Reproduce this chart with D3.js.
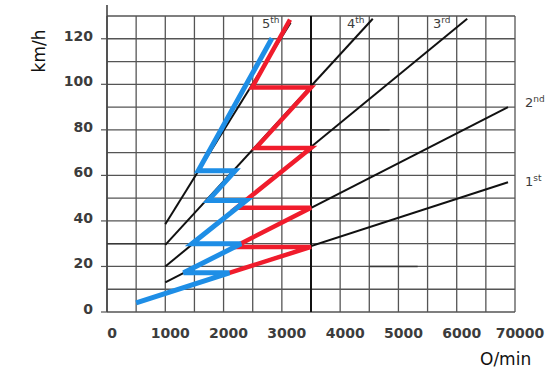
<!DOCTYPE html>
<html>
<head>
<meta charset="utf-8">
<script src="https://d3js.org/d3.v7.min.js"></script>
<style>
  body { margin: 0; background: #fff; }
  svg { display: block; }
  .tick-label { font-family: "DejaVu Sans", sans-serif; font-weight: bold; font-size: 14px; fill: #3c3c3c; }
  .gear-label { font-family: "DejaVu Sans", sans-serif; font-size: 13px; fill: #3c3c3c; }
  .axis-title { font-family: "DejaVu Sans", sans-serif; font-size: 17px; fill: #111; }
</style>
</head>
<body>
<svg width="550" height="390"></svg>
<script>
// axis ticks
var rpmTicks = [0, 1000, 2000, 3000, 4000, 5000, 6000, 7000];
var rpmTickLabels = ["0", "1000", "2000", "3000", "4000", "5000", "6000", "70000"];
var kmhTicks = [0, 20, 40, 60, 80, 100, 120];

// black gear lines (rpm, km/h at each end)
var gearNames = ["1st", "2nd", "3rd", "4th", "5th"];
var gearStartRpm = [1000, 1000, 1000, 1000, 1000];
var gearStartKmh = [8.2, 13, 20, 29.5, 38.5];
var gearEndRpm = [6880, 6880, 6180, 4560, 3150];
var gearEndKmh = [57, 90, 128.8, 128.8, 127];
// where each gear name sits (rpm, km/h)
var gearLabelRpm = [7171, 7171, 5593, 4117, 2659];
var gearLabelKmh = [55.3, 90, 124.7, 124.7, 124.7];

// blue shift path (early shifting)
var blueRpm = [500, 2100, 1313, 2300, 1456, 2390, 1738, 2200, 1565, 2830];
var blueKmh = [4, 17.2, 17.2, 30, 30, 49, 49, 62, 62, 120.2];

// red shift path (shifting at 3500 rpm)
var redRpm = [2100, 3500, 2183, 3500, 2223, 3500, 2553, 3500, 2490, 3140];
var redKmh = [17.2, 28.6, 28.6, 45.8, 45.8, 72, 72, 98.6, 98.6, 128.4];

// slightly darker grid pieces in the scan
var darkFromRpm = [0, 3500, 3500, 4500];
var darkToRpm = [1000, 4850, 4480, 5330];
var darkKmh = [30, 80, 50, 20];

var svg = d3.select("svg");
var x = d3.scaleLinear().domain([0, 7000]).range([107, 515]);
var y = d3.scaleLinear().domain([0, 130]).range([312, 16]);

// grid
var grid = svg.append("g").attr("stroke", "#555").attr("stroke-width", 1.3);
grid.selectAll(".v").data(d3.range(0, 7001, 500)).enter().append("line")
  .attr("x1", d => x(d)).attr("x2", d => x(d))
  .attr("y1", y(130)).attr("y2", y(0));
grid.selectAll(".h").data(d3.range(0, 131, 10)).enter().append("line")
  .attr("x1", x(0)).attr("x2", x(7000))
  .attr("y1", d => y(d)).attr("y2", d => y(d));

// y axis line sticks out a bit at the top
svg.append("line").attr("x1", x(0)).attr("x2", x(0)).attr("y1", 5).attr("y2", y(0))
  .attr("stroke", "#444").attr("stroke-width", 1.6);
// darker 3500 rpm line
svg.append("line").attr("x1", x(3500)).attr("x2", x(3500)).attr("y1", y(130)).attr("y2", y(0))
  .attr("stroke", "#111").attr("stroke-width", 2);
svg.selectAll(".dark").data(darkKmh).enter().append("line")
  .attr("x1", (d, i) => x(darkFromRpm[i])).attr("x2", (d, i) => x(darkToRpm[i]))
  .attr("y1", d => y(d)).attr("y2", d => y(d))
  .attr("stroke", "#383838").attr("stroke-width", 1.4);

// y ticks and labels
svg.selectAll(".yt").data(kmhTicks).enter().append("line")
  .attr("x1", x(0) - 6).attr("x2", x(0)).attr("y1", d => y(d)).attr("y2", d => y(d))
  .attr("stroke", "#555").attr("stroke-width", 1.2);
svg.selectAll(".yl").data(kmhTicks).enter().append("text")
  .attr("class", "tick-label").attr("text-anchor", "end")
  .attr("x", x(0) - 14).attr("y", d => y(d) + 2)
  .text(d => d);

// x labels
svg.selectAll(".xl").data(rpmTicks).enter().append("text")
  .attr("class", "tick-label").attr("text-anchor", "middle")
  .attr("x", d => x(d) + 5).attr("y", 338)
  .text((d, i) => rpmTickLabels[i]);

// axis titles
svg.append("text").attr("class", "axis-title").attr("text-anchor", "middle")
  .attr("transform", "translate(45,51) rotate(-90)").text("km/h");
svg.append("text").attr("class", "axis-title").attr("x", 480).attr("y", 365).text("O/min");

// gear lines
svg.selectAll(".gear").data(gearNames).enter().append("line")
  .attr("x1", (d, i) => x(gearStartRpm[i])).attr("y1", (d, i) => y(gearStartKmh[i]))
  .attr("x2", (d, i) => x(gearEndRpm[i])).attr("y2", (d, i) => y(gearEndKmh[i]))
  .attr("stroke", "#111").attr("stroke-width", 2);

// gear names with superscript suffix
var gl = svg.selectAll(".gl").data(gearNames).enter().append("text")
  .attr("class", "gear-label")
  .attr("x", (d, i) => x(gearLabelRpm[i])).attr("y", (d, i) => y(gearLabelKmh[i]));
gl.append("tspan").text(d => d.slice(0, 1));
gl.append("tspan").attr("font-size", "9px").attr("dy", -5).text(d => d.slice(1));

// shift paths
var line = d3.line().x(d => x(d[0])).y(d => y(d[1]));
svg.append("path").datum(redRpm.map((r, i) => [r, redKmh[i]]))
  .attr("d", line).attr("fill", "none")
  .attr("stroke", "#f01c2c").attr("stroke-width", 4.5);
svg.append("path").datum(blueRpm.map((r, i) => [r, blueKmh[i]]))
  .attr("d", line).attr("fill", "none")
  .attr("stroke", "#1e8ee6").attr("stroke-width", 5);
</script>
</body>
</html>
